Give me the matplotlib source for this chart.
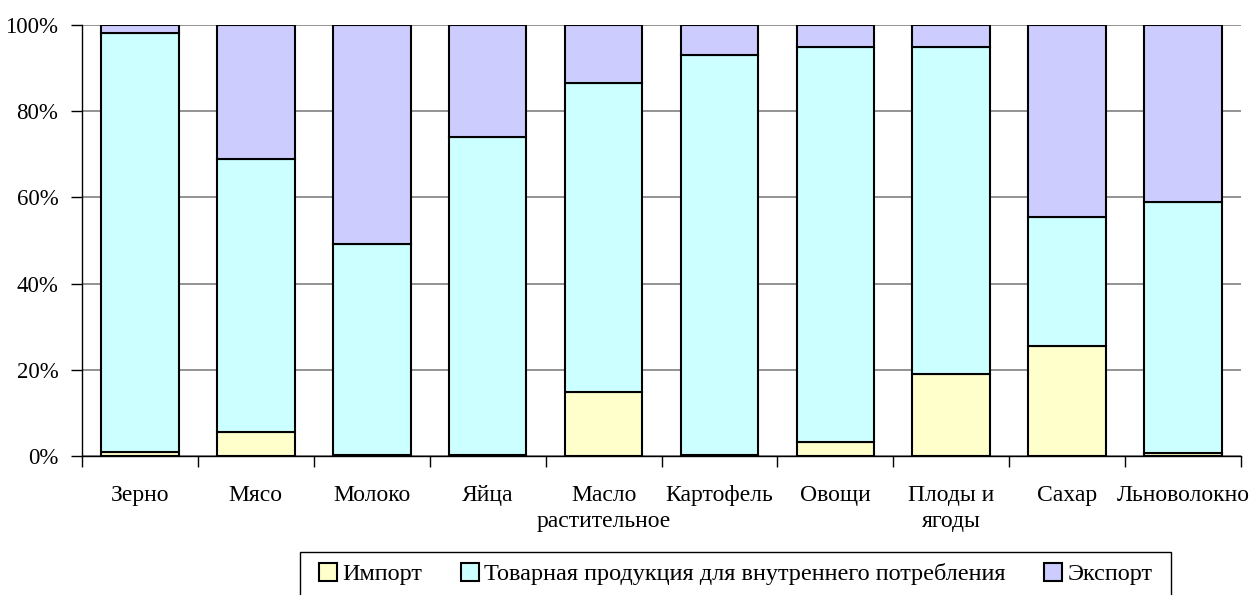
import matplotlib
matplotlib.use("Agg")
import matplotlib.pyplot as plt
import numpy as np
from matplotlib.patches import Rectangle

categories = ["Зерно", "Мясо", "Молоко", "Яйца", "Масло\nрастительное", "Картофель",
              "Овощи", "Плоды и\nягоды", "Сахар", "Льноволокно"]
# shares, %
imports = [0.9, 5.5, 0.3, 0.3, 14.8, 0.3, 3.2, 19.0, 25.5, 0.8]
domestic = [97.3, 63.5, 48.8, 73.7, 71.7, 92.7, 91.6, 75.8, 30.0, 58.1]
exports = [1.8, 31.0, 50.9, 26.0, 13.5, 7.0, 5.2, 5.2, 44.5, 41.1]
series_names = ["Импорт", "Товарная продукция для внутреннего потребления", "Экспорт"]
colors = ["#FFFFCC", "#CCFFFF", "#CCCCFF"]

plt.rcParams["font.family"] = ["Liberation Serif", "DejaVu Serif"]

W, H = 1252, 595
fig = plt.figure(figsize=(W / 100, H / 100), dpi=100)
ax = fig.add_axes([82 / W, 1 - 456 / H, (1241 - 82) / W, (456 - 25) / H])

x = np.arange(len(categories))
bottom = np.zeros(len(categories))
handles = []
for vals, col, name in zip([imports, domestic, exports], colors, series_names):
    b = ax.bar(x, vals, bottom=bottom, width=0.67, color=col, edgecolor="black",
               linewidth=1.5, label=name, zorder=3)
    handles.append(b)
    bottom += np.array(vals)

ax.set_xlim(-0.5, len(categories) - 0.5)
ax.set_ylim(0, 100)
ax.set_yticks(np.arange(0, 101, 20))
ax.set_yticklabels([f"{v}%" for v in range(0, 101, 20)], fontsize=16.5)
ax.yaxis.grid(True, color="#808080", linewidth=1.2, zorder=0)
ax.tick_params(axis="y", length=8, width=1, pad=9)

ax.set_xticks(x)
ax.set_xticklabels(categories, fontsize=17, linespacing=1.3)
ax.tick_params(axis="x", which="major", length=0, pad=21)
ax.set_xticks(np.arange(-0.5, len(categories), 1), minor=True)
ax.tick_params(axis="x", which="minor", length=8, width=1)

for s in ["top", "right"]:
    ax.spines[s].set_visible(False)
for s in ["left", "bottom"]:
    ax.spines[s].set_linewidth(1)

# legend box, cut off by the bottom edge like the original
fig.patches.append(Rectangle((300 / W, -0.05), (1171 - 300) / W, 0.05 + 1 - 552 / H,
                             transform=fig.transFigure, fill=False,
                             edgecolor="black", linewidth=1))
leg = fig.legend(handles=handles, labels=series_names, loc="center",
                 bbox_to_anchor=((300 + 1171) / 2 / W, 1 - 574 / H), ncol=3,
                 frameon=False, fontsize=17.5, handlelength=0.75, handleheight=0.75,
                 handletextpad=0.2, columnspacing=1.6)

fig.savefig("out.png", dpi=100)
